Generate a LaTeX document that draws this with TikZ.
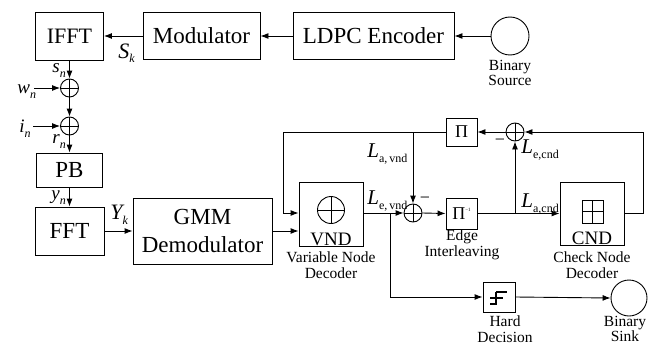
\documentclass[tikz,border=0pt]{standalone}
\usepackage{fontspec}
\setmainfont{Liberation Serif}
\usetikzlibrary{arrows.meta}
\newcommand\lsub[1]{\raisebox{-5pt}{\fontsize{12}{12}\selectfont #1}}
\newcommand\nsub[1]{\raisebox{-5pt}{\fontsize{12}{12}\selectfont\itshape #1}}
\begin{document}
\begin{tikzpicture}[x=1pt,y=-1pt,line width=0.9pt,
  box/.style={draw,inner sep=0pt,font=\fontsize{23}{28}\selectfont,align=center},
  lbl/.style={font=\fontsize{15.5}{15.5}\selectfont,align=center,inner sep=0pt},
  mlbl/.style={inner sep=0pt,anchor=base west},
  circ/.style={draw,circle,inner sep=0pt},
  sumnode/.style={draw,circle,minimum size=18pt,inner sep=0pt,
    path picture={\draw (path picture bounding box.north) -- (path picture bounding box.south)
      (path picture bounding box.west) -- (path picture bounding box.east);}},
  arr/.style={-{Latex[length=8pt,width=6pt]}},
]
\useasboundingbox (0,0) rectangle (660,345);
% top chain
\node[box,minimum width=68pt,minimum height=48pt,font=\fontsize{22}{26}\selectfont] (ifft) at (69.5,36) {IFFT};
\node[box,minimum width=117pt,minimum height=47pt] (mod) at (201.5,36) {Modulator};
\node[box,minimum width=161pt,minimum height=47pt] (ldpc) at (373.5,36) {LDPC Encoder};
\node[circ,minimum size=38pt] (src) at (510,36) {};
\node[lbl] (srcl) at (510,73) {Binary\\Source};
\draw[arr] (src.west) -- (ldpc.east);
\draw[arr] (ldpc.west) -- (mod.east);
\draw[arr] (mod.west) -- (ifft.east);
\node[mlbl,font=\fontsize{22}{22}\selectfont] (sk) at (118,58) {\textit{S}\nsub{k}};
% channel
\node[sumnode] (s1) at (69.5,88) {};
\node[sumnode] (s2) at (69.5,126) {};
\coordinate (win) at (34,88);
\coordinate (iin) at (33,126);
\node[box,minimum width=66pt,minimum height=34pt] (pb) at (69.5,170) {PB};
\node[box,minimum width=69pt,minimum height=48pt] (fft) at (69.5,231) {FFT};
\draw[arr] (ifft.south) -- (s1.north);
\draw[arr] (win) -- (s1.west);
\draw[arr] (s1.south) -- (s2.north);
\draw[arr] (iin) -- (s2.west);
\draw[arr] (s2.south) -- (pb.north);
\draw[arr] (pb.south) -- (fft.north);
\node[mlbl,font=\fontsize{19}{19}\selectfont\itshape] (snl) at (52,72) {s\nsub{n}};
\node[mlbl,font=\fontsize{19}{19}\selectfont\itshape] (wnl) at (17,93) {w\nsub{n}};
\node[mlbl,font=\fontsize{19}{19}\selectfont\itshape] (inl) at (19,132) {i\nsub{n}};
\node[mlbl,font=\fontsize{19}{19}\selectfont\itshape] (rnl) at (52,143) {r\nsub{n}};
\node[mlbl,font=\fontsize{19}{19}\selectfont\itshape] (ynl) at (51,199) {y\nsub{n}};
\node[mlbl,font=\fontsize{22}{22}\selectfont\itshape] (ykl) at (110,219) {Y\nsub{k}};
% demodulator
\node[box,minimum width=139pt,minimum height=66pt] (gmm) at (202.5,231) {GMM\\Demodulator};
\draw[arr] (fft.east) -- (gmm.west);
% VND
\node[draw,inner sep=0pt,minimum width=64pt,minimum height=64pt] (vnd) at (331,214) {};
\node[sumnode,minimum size=27pt] (vndsym) at (331,210) {};
\node[inner sep=0pt,anchor=base,font=\fontsize{19}{19}\selectfont] (vndt) at (331,245) {VND};
\node[lbl] (vndl) at (331,265) {Variable Node\\Decoder};
\draw[arr] (gmm.east) -- (gmm.east -| vnd.west);
% sums and interleavers
\node[sumnode] (s3) at (413,213) {};
\node[sumnode] (s4) at (515,132) {};
\node[box,minimum width=31pt,minimum height=28pt,font=\fontsize{18}{18}\selectfont] (pi) at (461.5,132) {Π};
\node[box,minimum width=31pt,minimum height=31pt,font=\fontsize{18}{18}\selectfont] (pinv) at (461.5,213.5) {Π\raisebox{8pt}{\fontsize{5}{5}\selectfont −1}};
\node[lbl] (pinvl) at (462,245) {Edge\\Interleaving};
% CND
\node[draw,inner sep=0pt,minimum width=64pt,minimum height=63pt] (cnd) at (592,213.5) {};
\node[draw,inner sep=0pt,minimum width=21pt,minimum height=23pt,
  path picture={\draw (path picture bounding box.north) -- (path picture bounding box.south)
      (path picture bounding box.west) -- (path picture bounding box.east);}] (cndsym) at (592.5,211.5) {};
\node[inner sep=0pt,anchor=base,font=\fontsize{19}{19}\selectfont] (cndt) at (592,244) {CND};
\node[lbl] (cndl) at (592,265) {Check Node\\Decoder};
% hard decision and sink
\node[draw,inner sep=0pt,minimum width=32pt,minimum height=30pt] (hard) at (499,297) {};
\draw[line width=1.6pt] (496,292) -- (507,292) (496,292) -- (496,304) -- (490,304) (490,298) -- (503,298);
\node[lbl] (hardl) at (505,329) {Hard\\Decision};
\node[circ,minimum size=36pt] (sink) at (629,298) {};
\node[lbl] (sinkl) at (625,329) {Binary\\Sink};
% coordinates
\coordinate (fbc) at (283,132);
\coordinate (j1) at (390,213);
\coordinate (j2) at (515,213);
\coordinate (cr) at (643,213);
% connectors
\draw[arr] (pi.west) -- (fbc) |- (vnd.west |- s3);
\draw[arr] (vnd.east |- s3) -- (s3.west);
\draw[arr] (j1) |- (hard.west);
\draw[arr] (s3 |- pi.west) -- (s3.north);
\draw[arr] (s3.east) -- (pinv.west);
\draw[arr] (pinv.east) -- (pinv.east -| cnd.west);
\draw[arr] (j2) -- (s4.south);
\draw[arr] (cnd.east |- cr) -- (cr) |- (s4.east);
\draw[arr] (s4.west) -- (pi.east);
\draw[arr] (hard.east) -- (sink.west);
% labels
\node[mlbl,font=\fontsize{21}{21}\selectfont] (lav) at (367,157) {\textit{L}\lsub{a,\,vnd}};
\node[mlbl,font=\fontsize{21}{21}\selectfont] (lev) at (367,204) {\textit{L}\lsub{e,\,vnd}};
\node[mlbl,font=\fontsize{21}{21}\selectfont] (lac) at (521,207) {\textit{L}\lsub{a,cnd}};
\node[mlbl,font=\fontsize{21}{21}\selectfont] (lec) at (521,153) {\textit{L}\lsub{e,cnd}};
\node[inner sep=0pt,font=\fontsize{18}{18}\selectfont] (m1) at (425,200) {−};
\node[inner sep=0pt,font=\fontsize{18}{18}\selectfont] (m2) at (500,142) {−};
\end{tikzpicture}
\end{document}
